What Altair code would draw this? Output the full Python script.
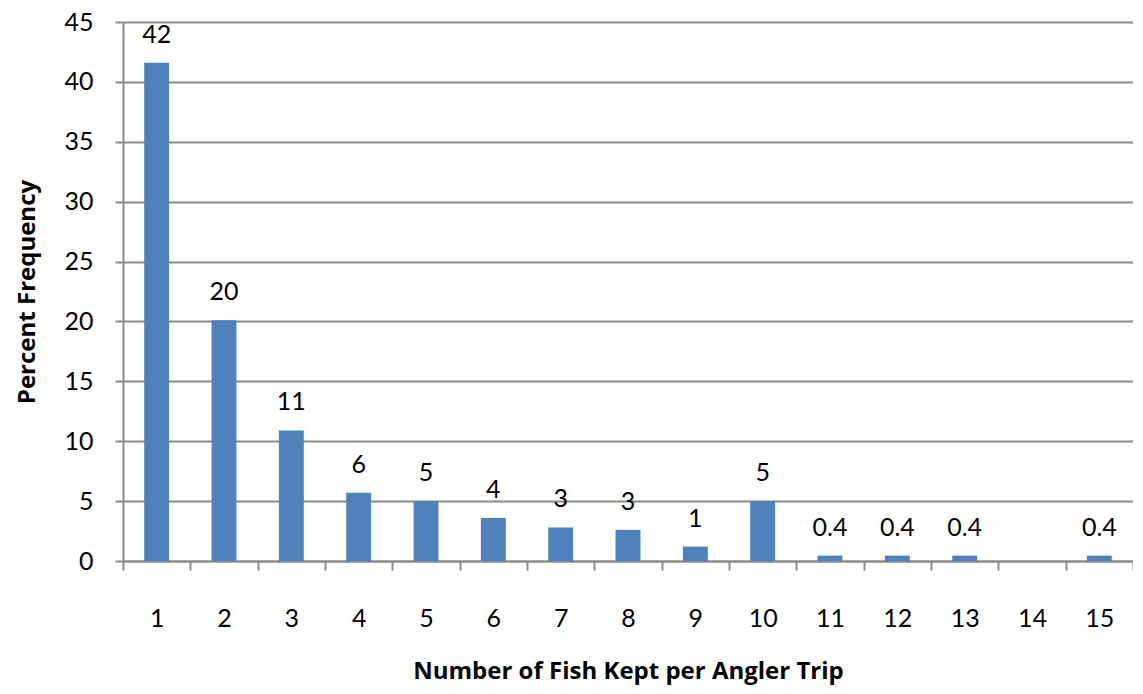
import altair as alt
import pandas as pd

categories = ["1", "2", "3", "4", "5", "6", "7", "8", "9", "10", "11", "12", "13", "14", "15"]
values = [41.6, 20.1, 10.9, 5.7, 5.0, 3.6, 2.8, 2.6, 1.2, 5.0, 0.45, 0.45, 0.45, 0.0, 0.45]
labels = ["42", "20", "11", "6", "5", "4", "3", "3", "1", "5", "0.4", "0.4", "0.4", "", "0.4"]

df = pd.DataFrame({"cat": categories, "val": values, "lab": labels})

FONT = "Lato"
TFONT = "Open Sans"
GRID = "#8a8a8a"

x = alt.X(
    "cat:N",
    sort=categories,
    scale=alt.Scale(paddingInner=0, paddingOuter=0),
    axis=alt.Axis(
        title="Number of Fish Kept per Angler Trip",
        labelAngle=0,
        tickBand="extent",
        tickSize=9,
        tickColor=GRID,
        tickWidth=2,
        domainColor=GRID,
        domainWidth=2,
        labelPadding=36,
        labelFontSize=25,
        labelFont=FONT,
        labelColor="black",
        titleFont=TFONT,
        titleFontSize=24,
        titleFontWeight="bold",
        titleColor="black",
        titlePadding=28,
        grid=False,
    ),
)

y = alt.Y(
    "val:Q",
    scale=alt.Scale(domain=[0, 45], nice=False),
    axis=alt.Axis(
        title="Percent Frequency",
        values=list(range(0, 50, 5)),
        tickSize=8,
        tickColor=GRID,
        tickWidth=2,
        domainColor=GRID,
        domainWidth=2,
        gridColor=GRID,
        gridWidth=2,
        labelPadding=22,
        labelFontSize=25,
        labelFont=FONT,
        labelColor="black",
        titleFont=TFONT,
        titleFontSize=24,
        titleFontWeight="bold",
        titleColor="black",
        titlePadding=24,
    ),
)

bars = alt.Chart(df).mark_bar(color="#4F81BD", width=alt.RelativeBandSize(0.37)).encode(x=x, y=y)

text = alt.Chart(df).mark_text(
    baseline="alphabetic", dy=-20, fontSize=25, font=FONT, color="black"
).encode(x=alt.X("cat:N", sort=categories), y="val:Q", text="lab:N")

chart = (
    alt.layer(bars, text)
    .properties(
        width=1010,
        height=539,
        autosize=alt.AutoSizeParams(type="none"),
        padding={"left": 115, "top": 14, "right": 0, "bottom": 130},
    )
    .configure_view(stroke=None)
)

chart.save("out.html", embed_options={"renderer": "svg", "actions": False})
